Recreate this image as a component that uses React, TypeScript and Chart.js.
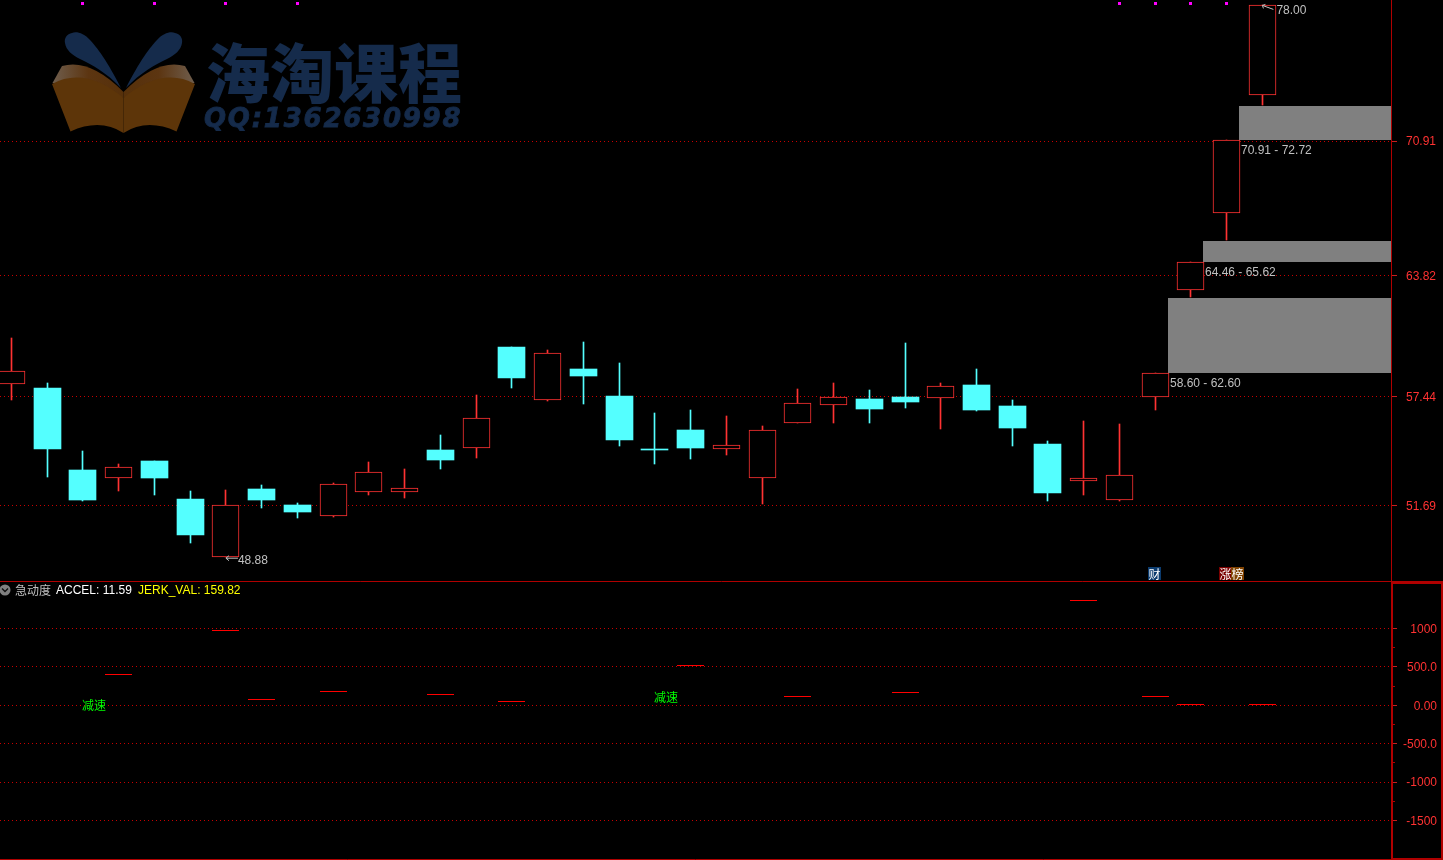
import React, { useEffect, useRef } from "react";
import { Chart, registerables } from "chart.js";

Chart.register(...registerables);

const opens = [58.13, 57.90, 53.58, 53.18, 54.06, 52.06, 49.02, 52.58, 51.74, 51.18, 52.44, 52.44, 54.64, 54.76, 60.06, 57.29, 58.90, 57.48, 54.69, 55.69, 54.71, 53.18, 56.08, 57.02, 57.32, 57.43, 57.39, 58.06, 56.96, 54.95, 53.02, 52.02, 57.44, 63.05, 67.10, 73.35];
const closes = [58.78, 54.69, 52.00, 53.73, 53.16, 50.16, 51.73, 52.00, 51.37, 52.83, 53.46, 52.62, 54.11, 56.31, 58.43, 59.75, 58.54, 55.16, 54.64, 54.74, 54.89, 55.68, 57.10, 57.41, 56.80, 57.17, 57.99, 56.75, 55.80, 52.37, 53.15, 53.31, 58.68, 64.52, 70.95, 78.05];
const highs = [60.54, 58.17, 54.59, 53.90, 54.06, 52.48, 52.53, 52.80, 51.85, 52.90, 54.01, 53.64, 55.43, 57.53, 60.06, 59.90, 60.33, 59.22, 56.58, 56.75, 56.43, 55.89, 57.85, 58.17, 57.80, 60.27, 58.17, 58.90, 57.27, 55.11, 56.17, 56.01, 58.68, 64.52, 70.95, 78.05];
const lows = [57.29, 53.23, 51.97, 52.50, 52.28, 49.76, 49.02, 51.60, 51.07, 51.13, 52.28, 52.13, 53.64, 54.23, 57.92, 57.23, 57.08, 54.87, 53.90, 54.18, 54.38, 51.81, 56.08, 56.08, 56.08, 56.85, 55.76, 56.69, 54.87, 51.97, 52.28, 51.97, 56.76, 62.71, 65.71, 72.81];
const priceTicks = [70.91, 63.82, 57.44, 51.69];
const markerIndexes = [2, 4, 6, 8, 31, 32, 33, 34];
const markerLevel = 78.15;
const zoneIndexes = [32, 33, 34];
const zoneLows = [58.69, 64.54, 70.96];
const zoneHighs = [62.64, 65.64, 72.75];
const zoneLabels = ["58.60 - 62.60", "64.46 - 65.62", "70.91 - 72.72"];
const jerkIndexes = [3, 6, 7, 9, 12, 14, 19, 22, 25, 30, 32, 33, 35];
const jerkValues = [404, 974, 76, 180, 134, 43, 512, 108, 173, 1358, 108, 10, 10];
const jerkTicks = [1000, 500, 0, -500, -1000, -1500];
const jerkTickLabels = ["1000", "500.0", "0.00", "-500.0", "-1000", "-1500"];
const jerkMinorTicks = [750, 250, -250, -750, -1250];
const slowIndexes = [2, 18];
const slowValues = [0, 108];
const slowLabel = "减速";

const RED = "#ff3232";
const CYAN = "#54ffff";
const GRID = "#c80000";
const AXIS = "#b00000";
const X_MIN = -0.3218;
const X_MAX = 38.598;
const LATIN = "12px 'Liberation Sans'";
const CJK = "12px 'Noto Sans CJK SC'";

const snap = {
  id: "snap",
  afterDatasetsUpdate(chart: any) {
    chart.getSortedVisibleDatasetMetas().forEach((meta: any) => {
      meta.data.forEach((el: any) => {
        el.x = Math.floor(el.x) + 0.5;
        if (meta.type === "bar") {
          el.y = Math.round(el.y);
          el.base = Math.round(el.base);
          if (el.y === el.base) el.base = el.y + 1;
        } else {
          el.y = Math.floor(el.y) + 0.5;
        }
      });
    });
  },
};

function drawLogo(ctx: CanvasRenderingContext2D) {
  ctx.save();
  const mirror = (fn: (s: (x: number) => number) => void) => {
    fn((x) => x);
    fn((x) => 247 - x);
  };
  mirror((s) => {
    const strip = ctx.createLinearGradient(s(53), 0, s(124), 0);
    strip.addColorStop(0, "#6f5d4c");
    strip.addColorStop(0.5, "#5c3511");
    strip.addColorStop(1, "#56300a");
    ctx.fillStyle = strip;
    ctx.beginPath();
    ctx.moveTo(s(52.5), 83);
    ctx.lineTo(s(62), 66);
    ctx.quadraticCurveTo(s(90), 58, s(123.5), 92);
    ctx.lineTo(s(123.5), 98);
    ctx.closePath();
    ctx.fill();
    ctx.fillStyle = "#5d3509";
    ctx.beginPath();
    ctx.moveTo(s(52), 84);
    ctx.quadraticCurveTo(s(85), 66, s(123.5), 98);
    ctx.lineTo(s(123.5), 133);
    ctx.quadraticCurveTo(s(100), 118, s(70.5), 131.5);
    ctx.closePath();
    ctx.fill();
    ctx.fillStyle = "#152b4b";
    ctx.beginPath();
    ctx.moveTo(s(121), 88);
    ctx.bezierCurveTo(s(108), 62, s(96), 46, s(90), 40);
    ctx.bezierCurveTo(s(84), 33, s(76), 31, s(72), 33);
    ctx.bezierCurveTo(s(67), 34, s(64), 38, s(65), 43);
    ctx.bezierCurveTo(s(66), 50, s(72), 55, s(80), 59);
    ctx.bezierCurveTo(s(92), 65, s(106), 72, s(121), 88);
    ctx.closePath();
    ctx.fill();
  });
  ctx.fillStyle = "#152b4b";
  ctx.strokeStyle = "#152b4b";
  ctx.textBaseline = "middle";
  ctx.textAlign = "left";
  ctx.font = "900 64px 'Noto Sans CJK SC'";
  ctx.fillText("海淘课程", 206, 73);
  ctx.font = "italic bold 26px 'DejaVu Sans'";
  (ctx as any).letterSpacing = "1.75px";
  ctx.lineWidth = 0.8;
  ctx.fillText("QQ:1362630998", 204, 120);
  ctx.strokeText("QQ:1362630998", 204, 120);
  (ctx as any).letterSpacing = "0px";
  ctx.restore();
}

const topOverlay = {
  id: "topOverlay",
  beforeDraw(chart: any) {
    drawLogo(chart.ctx);
  },
  beforeDatasetsDraw(chart: any) {
    const { ctx, scales, chartArea } = chart;
    ctx.save();
    ctx.fillStyle = "#808080";
    zoneIndexes.forEach((idx, i) => {
      const left = Math.floor(scales.x.getPixelForValue(idx)) + 13;
      const top = Math.round(scales.y.getPixelForValue(zoneHighs[i]));
      const bottom = Math.round(scales.y.getPixelForValue(zoneLows[i]));
      ctx.fillRect(left, top, chartArea.right - left, bottom - top);
    });
    ctx.restore();
  },
  afterDatasetsDraw(chart: any) {
    const { ctx, scales } = chart;
    ctx.save();
    ctx.textBaseline = "middle";
    ctx.textAlign = "left";
    ctx.font = LATIN;
    ctx.fillStyle = "#c0c0c0";
    zoneIndexes.forEach((idx, i) => {
      const x = Math.floor(scales.x.getPixelForValue(idx)) + 15;
      const y = Math.round(scales.y.getPixelForValue(zoneLows[i])) + 11;
      ctx.fillText(zoneLabels[i], x, y);
    });
    const hiX = scales.x.getPixelForValue(35);
    const hiY = scales.y.getPixelForValue(78.05);
    const loX = scales.x.getPixelForValue(6);
    const loY = scales.y.getPixelForValue(49.02);
    ctx.fillText("78.00", hiX + 14, hiY + 5.5);
    ctx.fillText("48.88", loX + 12, loY + 3.5);
    ctx.strokeStyle = "#c0c0c0";
    ctx.lineWidth = 1;
    ctx.beginPath();
    ctx.moveTo(hiX + 11, hiY + 4);
    ctx.lineTo(hiX, hiY);
    ctx.lineTo(hiX + 3, hiY - 1);
    ctx.moveTo(hiX, hiY);
    ctx.lineTo(hiX + 1, hiY + 3);
    ctx.moveTo(loX + 12, loY + 1.5);
    ctx.lineTo(loX, loY + 1.5);
    ctx.lineTo(loX + 3, loY - 1);
    ctx.moveTo(loX, loY + 1.5);
    ctx.lineTo(loX + 3, loY + 4);
    ctx.stroke();

    const badge = (x: number, color: string, label: string) => {
      ctx.fillStyle = color;
      ctx.fillRect(x, 567, 13, 13);
      ctx.fillStyle = "#ffffff";
      ctx.font = CJK;
      ctx.fillText(label, x + 0.5, 574);
    };
    const b1 = Math.floor(scales.x.getPixelForValue(32)) - 7;
    const b2 = Math.floor(scales.x.getPixelForValue(34)) - 7;
    badge(b1, "#0b3b6e", "财");
    badge(b2, "#7a0000", "涨");
    badge(b2 + 12, "#7f4200", "榜");
    ctx.restore();
  },
};

const bottomOverlay = {
  id: "bottomOverlay",
  afterDatasetsDraw(chart: any) {
    const { ctx, scales, width } = chart;
    ctx.save();
    ctx.strokeStyle = AXIS;
    ctx.lineWidth = 1;
    ctx.beginPath();
    ctx.moveTo(0, 0.5);
    ctx.lineTo(width, 0.5);
    ctx.moveTo(0, 278.5);
    ctx.lineTo(1391, 278.5);
    ctx.stroke();
    ctx.lineWidth = 2;
    ctx.strokeRect(1392, 2, 50, 276);
    ctx.lineWidth = 1;
    ctx.beginPath();
    jerkMinorTicks.forEach((v) => {
      const y = Math.floor(scales.y.getPixelForValue(v)) + 0.5;
      ctx.moveTo(1393, y);
      ctx.lineTo(1395, y);
    });
    ctx.stroke();

    ctx.textBaseline = "middle";
    ctx.textAlign = "left";
    ctx.fillStyle = "#00ff00";
    ctx.font = CJK;
    slowIndexes.forEach((idx, i) => {
      const x = Math.floor(scales.x.getPixelForValue(idx));
      ctx.fillText(slowLabel, x, scales.y.getPixelForValue(slowValues[i]));
    });

    ctx.fillStyle = "#808080";
    ctx.beginPath();
    ctx.arc(5, 9, 5.5, 0, Math.PI * 2);
    ctx.fill();
    ctx.strokeStyle = "#111111";
    ctx.lineWidth = 1.4;
    ctx.beginPath();
    ctx.moveTo(2, 7.5);
    ctx.lineTo(5, 10.5);
    ctx.lineTo(8, 7.5);
    ctx.stroke();
    ctx.font = CJK;
    ctx.fillStyle = "#c0c0c0";
    ctx.fillText("急动度", 15, 9);
    ctx.font = LATIN;
    ctx.fillStyle = "#ffffff";
    ctx.fillText("ACCEL: 11.59", 56, 9.5);
    ctx.fillStyle = "#ffff00";
    ctx.fillText("JERK_VAL: 159.82", 138, 9.5);
    ctx.restore();
  },
};

const fitAxis = (width: number) => (scale: any) => {
  scale.width = width;
  scale.paddingTop = 0;
  scale.paddingBottom = 0;
};

export default function App() {
  const topRef = useRef<HTMLCanvasElement>(null);
  const bottomRef = useRef<HTMLCanvasElement>(null);

  useEffect(() => {
    document.body.style.margin = "0";
    document.body.style.background = "#000";
    document.body.style.overflow = "hidden";

    const bodies = opens.map((o, i) => ({ x: i, y: [o, closes[i]] }));
    const wicks = opens.map((_, i) => ({ x: i, y: [lows[i], highs[i]] }));
    const isUp = opens.map((o, i) => closes[i] >= o);

    const top = new Chart(topRef.current!, {
      type: "bar",
      data: {
        datasets: [
          {
            type: "scatter",
            data: markerIndexes.map((x) => ({ x, y: markerLevel })),
            pointStyle: "rect",
            pointRadius: 2.13,
            backgroundColor: "#ff00ff",
            borderWidth: 0,
            order: 0,
          } as any,
          {
            data: bodies,
            barThickness: 27,
            grouped: false,
            backgroundColor: isUp.map((u) => (u ? "#000000" : CYAN)),
            borderColor: isUp.map((u) => (u ? RED : CYAN)),
            borderWidth: isUp.map((u) => (u ? 1 : 0)),
            borderSkipped: false,
            order: 1,
          } as any,
          {
            data: wicks,
            barThickness: 1,
            grouped: false,
            backgroundColor: isUp.map((u) => (u ? RED : CYAN)),
            borderWidth: 0,
            order: 2,
          } as any,
        ],
      },
      options: {
        responsive: false,
        animation: false,
        events: [],
        layout: { padding: 0, autoPadding: false },
        plugins: { legend: { display: false }, tooltip: { enabled: false } },
        scales: {
          x: { type: "linear", display: false, min: X_MIN, max: X_MAX, offset: false, grid: { offset: false } },
          y: {
            type: "linear",
            position: "right",
            min: 47.74,
            max: 78.335,
            afterFit: fitAxis(52),
            afterBuildTicks: (scale: any) => {
              scale.ticks = priceTicks.map((value) => ({ value }));
            },
            border: { color: AXIS, width: 1, dash: [1, 3] },
            grid: { color: GRID, tickColor: "#c81e1e", tickLength: 6, tickBorderDash: [] },
            ticks: {
              autoSkip: false,
              padding: 9,
              labelOffset: 1,
              color: RED,
              font: { family: "'Liberation Sans'", size: 12 },
              callback: (v: any) => Number(v).toFixed(2),
            },
          },
        },
      } as any,
      plugins: [snap, topOverlay],
    });

    const bottom = new Chart(bottomRef.current!, {
      type: "scatter",
      data: {
        datasets: [
          {
            data: jerkIndexes.map((x, i) => ({ x, y: jerkValues[i] })),
            pointStyle: "line",
            pointRadius: 13.5,
            borderColor: "#ff0000",
            borderWidth: 1,
          },
        ],
      },
      options: {
        responsive: false,
        animation: false,
        events: [],
        layout: { padding: { right: 6 }, autoPadding: false },
        plugins: { legend: { display: false }, tooltip: { enabled: false } },
        scales: {
          x: { type: "linear", display: false, min: X_MIN, max: X_MAX },
          y: {
            type: "linear",
            position: "right",
            min: -2014,
            max: 1618,
            afterFit: fitAxis(46),
            afterBuildTicks: (scale: any) => {
              scale.ticks = jerkTicks.map((value) => ({ value }));
            },
            border: { color: AXIS, width: 1, dash: [1, 3] },
            grid: { color: GRID, tickColor: "#c81e1e", tickLength: 6, tickBorderDash: [] },
            ticks: {
              autoSkip: false,
              padding: 0,
              labelOffset: 1,
              crossAlign: "far",
              color: RED,
              font: { family: "'Liberation Sans'", size: 12 },
              callback: (v: any) => jerkTickLabels[jerkTicks.indexOf(Number(v))],
            },
          },
        },
      } as any,
      plugins: [snap, bottomOverlay],
    });

    return () => {
      top.destroy();
      bottom.destroy();
    };
  }, []);

  return (
    <div style={{ position: "relative", width: 1443, height: 860, background: "#000", overflow: "hidden" }}>
      <canvas ref={topRef} width={1443} height={581} style={{ position: "absolute", left: 0, top: 0, display: "block" }} />
      <canvas ref={bottomRef} width={1443} height={279} style={{ position: "absolute", left: 0, top: 581, display: "block" }} />
    </div>
  );
}
